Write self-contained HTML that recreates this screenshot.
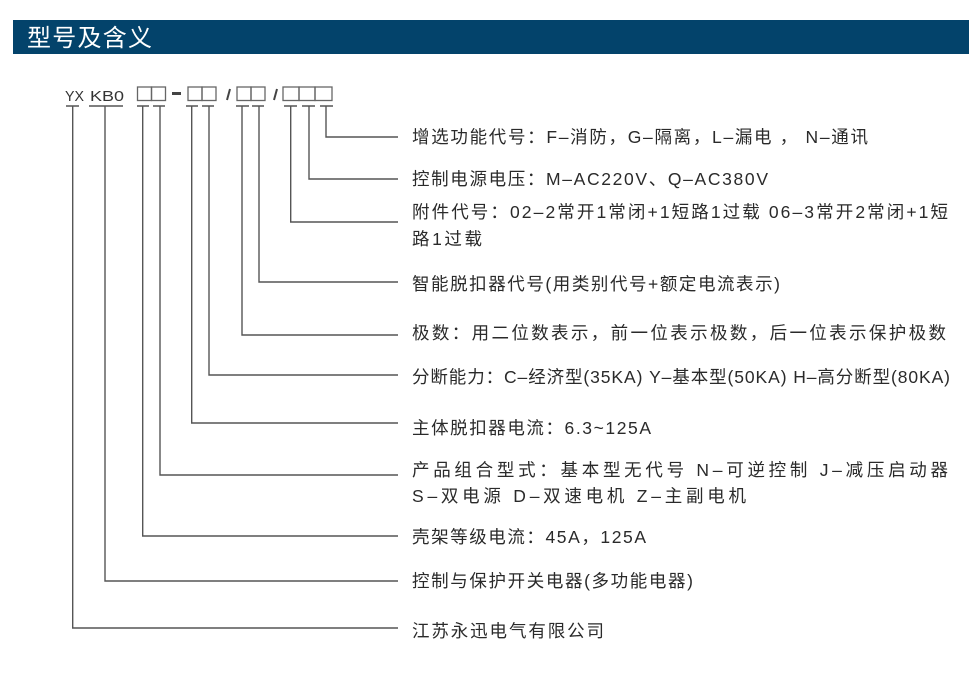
<!DOCTYPE html>
<html><head><meta charset="utf-8"><style>
html,body{margin:0;padding:0;background:#fff;}
svg{display:block;}
</style></head><body>
<svg width="978" height="699" viewBox="0 0 978 699" xmlns="http://www.w3.org/2000/svg">
<rect x="0" y="0" width="978" height="699" fill="#fff"/>
<rect x="13" y="20" width="956" height="34" fill="#03436b"/>
<text x="27" y="46" fill="#fff" font-size="24" font-family="Liberation Sans, Noto Sans CJK SC, sans-serif" textLength="125" lengthAdjust="spacing">型号及含义</text>

<g font-family="Liberation Sans, Noto Sans CJK SC, sans-serif" fill="#333" font-size="15">
<text x="65" y="101" textLength="19" lengthAdjust="spacingAndGlyphs">YX</text>
<text x="90" y="101" textLength="34" lengthAdjust="spacingAndGlyphs">KB0</text>
</g>
<g fill="none" stroke="#666" stroke-width="1.3">
<rect x="137.5" y="87" width="14" height="13.5"/><rect x="151.5" y="87" width="14" height="13.5"/>
<rect x="188" y="87" width="14" height="13.5"/><rect x="202" y="87" width="14" height="13.5"/>
<rect x="237" y="87" width="14" height="13.5"/><rect x="251" y="87" width="14" height="13.5"/>
<rect x="283" y="87" width="16" height="13.5"/><rect x="299" y="87" width="16" height="13.5"/><rect x="315" y="87" width="17" height="13.5"/>
</g>
<rect x="172" y="92" width="9" height="3" fill="#444"/>
<line x1="230" y1="89" x2="227" y2="100" stroke="#444" stroke-width="2"/>
<line x1="277" y1="89" x2="274" y2="100" stroke="#444" stroke-width="2"/>

<g stroke="#555" stroke-width="1.4" fill="none">
<path d="M66 106H79 M89 106H123 M137 106H149 M153 106H165 M186 106H198 M202 106H214 M236 106H249 M252 106H264 M284 106H297 M302 106H315 M320 106H333"/>
<path d="M72.7 106V628H398"/>
<path d="M105 106V581H398"/>
<path d="M142.7 106V536H398"/>
<path d="M160 106V475H398"/>
<path d="M191.7 106V423H398"/>
<path d="M209 106V375H398"/>
<path d="M242 106V335H398"/>
<path d="M259 106V282H398"/>
<path d="M290.7 106V222H398"/>
<path d="M309 106V179H398"/>
<path d="M326 106V137H398"/>
</g>

<g font-family="Liberation Sans, Noto Sans CJK SC, sans-serif" fill="#2a2a2a" font-size="17.5" lengthAdjust="spacing">
<text x="412" y="143" textLength="456" lengthAdjust="spacing">增选功能代号：F–消防，G–隔离，L–漏电 ， N–通讯</text>
<text x="412" y="185" textLength="356" lengthAdjust="spacing">控制电源电压：M–AC220V、Q–AC380V</text>
<text x="412" y="218" textLength="536" lengthAdjust="spacing">附件代号：02–2常开1常闭+1短路1过载 06–3常开2常闭+1短</text>
<text x="412" y="245" textLength="70" lengthAdjust="spacing">路1过载</text>
<text x="412" y="290" textLength="368" lengthAdjust="spacing">智能脱扣器代号(用类别代号+额定电流表示)</text>
<text x="412" y="339" textLength="534" lengthAdjust="spacing">极数：用二位数表示，前一位表示极数，后一位表示保护极数</text>
<text x="412" y="383" textLength="538" lengthAdjust="spacing">分断能力：C–经济型(35KA) Y–基本型(50KA) H–高分断型(80KA)</text>
<text x="412" y="434" textLength="239" lengthAdjust="spacing">主体脱扣器电流：6.3~125A</text>
<text x="412" y="476" textLength="536" lengthAdjust="spacing">产品组合型式：基本型无代号 N–可逆控制 J–减压启动器</text>
<text x="412" y="502" textLength="334" lengthAdjust="spacing">S–双电源 D–双速电机 Z–主副电机</text>
<text x="412" y="543" textLength="234" lengthAdjust="spacing">壳架等级电流：45A，125A</text>
<text x="412" y="587" textLength="281" lengthAdjust="spacing">控制与保护开关电器(多功能电器)</text>
<text x="412" y="637" textLength="192" lengthAdjust="spacing">江苏永迅电气有限公司</text>
</g>
</svg>
</body></html>
